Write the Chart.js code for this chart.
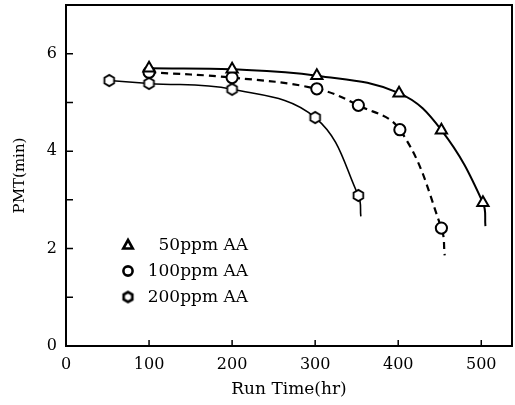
<!DOCTYPE html>
<html>
<head>
<meta charset="utf-8">
<script src="https://cdn.jsdelivr.net/npm/chart.js@4.4.1/dist/chart.umd.min.js"></script>
<style>
  html, body { margin: 0; padding: 0; background: #fff; }
  #wrap { width: 515px; height: 405px; position: relative; }
</style>
</head>
<body>
<div id="wrap"><canvas id="c"></canvas></div>
<script>
// ---- data ----
const seriesLabels = ['50ppm AA', '100ppm AA', '200ppm AA'];

const runTime50 = [100, 200, 302, 401, 452, 502];
const pmt50     = [5.70, 5.68, 5.55, 5.19, 4.43, 2.94];

const runTime100 = [100, 200, 302, 352, 402, 452];
const pmt100     = [5.62, 5.51, 5.28, 4.94, 4.44, 2.42];

const runTime200 = [52, 100, 200, 300, 352];
const pmt200     = [5.45, 5.39, 5.27, 4.69, 3.09];

// where each fitted curve ends, below its last marker
const curveEndTime = [505, 456, 355];
const curveEndPmt  = [2.46, 1.86, 2.66];

const xTickValues = [0, 100, 200, 300, 400, 500];
const yTickValues = [0, 1, 2, 3, 4, 5, 6];

// ---- helpers ----
function toPoints(xs, ys, endX, endY) {
  const pts = xs.map((x, i) => ({ x: x, y: ys[i] }));
  pts.push({ x: endX, y: endY });
  return pts;
}

function makeHexagon(r, lw) {
  const size = Math.ceil(2 * r + lw + 2);
  const cv = document.createElement('canvas');
  cv.width = size; cv.height = size;
  const g = cv.getContext('2d');
  const c = size / 2;
  g.beginPath();
  for (let i = 0; i < 6; i++) {
    const a = Math.PI / 6 + i * Math.PI / 3;
    const px = c + r * Math.cos(a), py = c + r * Math.sin(a);
    if (i === 0) g.moveTo(px, py); else g.lineTo(px, py);
  }
  g.closePath();
  g.fillStyle = '#fff';
  g.fill();
  g.lineWidth = lw;
  g.strokeStyle = '#000';
  g.stroke();
  return cv;
}
const hexMarker = makeHexagon(5.6, 1.8);
const hexLegend = makeHexagon(5, 2.6);

const FONT = "'DejaVu Serif', 'Liberation Serif', serif";

function lastHidden(base) {
  return ctx => (ctx.dataIndex === ctx.dataset.data.length - 1 ? 0 : base);
}
function noPadding(scale) {
  scale.paddingTop = 0; scale.paddingBottom = 0;
  scale.paddingLeft = 0; scale.paddingRight = 0;
}

// ---- plugins ----
const framePlugin = {
  id: 'frame',
  afterDraw(chart) {
    const { ctx, chartArea: a, scales } = chart;
    ctx.save();
    ctx.strokeStyle = '#000';
    ctx.lineWidth = 2;
    ctx.strokeRect(a.left, a.top, a.right - a.left, a.bottom - a.top);
    ctx.lineWidth = 1.5;
    ctx.beginPath();
    scales.x.ticks.forEach(t => {
      if (t.value <= 0) return;
      const px = scales.x.getPixelForValue(t.value);
      ctx.moveTo(px, a.bottom);
      ctx.lineTo(px, a.bottom - 6);
    });
    scales.y.ticks.forEach(t => {
      if (t.value <= 0 || t.value >= 7) return;
      const py = scales.y.getPixelForValue(t.value);
      ctx.moveTo(a.left, py);
      ctx.lineTo(a.left + 7, py);
    });
    ctx.stroke();
    ctx.restore();
  }
};

function drawMarker(ctx, style, x, y) {
  ctx.save();
  ctx.strokeStyle = '#000';
  ctx.fillStyle = '#fff';
  ctx.lineWidth = 2.6;
  if (style === 'triangle') {
    const r = 5;
    ctx.beginPath();
    ctx.moveTo(x, y - r);
    ctx.lineTo(x + r * 0.95, y + r * 0.7);
    ctx.lineTo(x - r * 0.95, y + r * 0.7);
    ctx.closePath();
    ctx.fill(); ctx.stroke();
  } else if (style === 'circle') {
    ctx.beginPath();
    ctx.arc(x, y, 4.6, 0, Math.PI * 2);
    ctx.fill(); ctx.stroke();
  } else {
    ctx.drawImage(hexLegend, x - hexLegend.width / 2, y - hexLegend.height / 2);
  }
  ctx.restore();
}

const legendPlugin = {
  id: 'insideLegend',
  afterDraw(chart) {
    const { ctx } = chart;
    const styles = ['triangle', 'circle', 'hex'];
    const rows = [245, 271, 297];
    ctx.save();
    ctx.font = "17px " + FONT;
    ctx.fillStyle = '#000';
    ctx.textAlign = 'right';
    ctx.textBaseline = 'middle';
    chart.data.datasets.forEach((ds, i) => {
      drawMarker(ctx, styles[i], 128, rows[i]);
      ctx.fillText(ds.label, 248, rows[i] + 1);
    });
    ctx.restore();
  }
};

// ---- chart ----
new Chart(document.getElementById('c'), {
  type: 'line',
  data: {
    datasets: [
      {
        label: seriesLabels[0],
        data: toPoints(runTime50, pmt50, curveEndTime[0], curveEndPmt[0]),
        borderColor: '#000',
        borderWidth: 2,
        tension: 0.4,
        pointStyle: 'triangle',
        pointRadius: lastHidden(6.5),
        pointBorderWidth: 2,
        pointBackgroundColor: '#fff',
        pointBorderColor: '#000',
        fill: false
      },
      {
        label: seriesLabels[1],
        data: toPoints(runTime100, pmt100, curveEndTime[1], curveEndPmt[1]),
        borderColor: '#000',
        borderWidth: 2.2,
        borderDash: [7, 5],
        tension: 0.4,
        pointStyle: 'circle',
        pointRadius: lastHidden(5.6),
        pointBorderWidth: 2,
        pointBackgroundColor: '#fff',
        pointBorderColor: '#000',
        fill: false
      },
      {
        label: seriesLabels[2],
        data: toPoints(runTime200, pmt200, curveEndTime[2], curveEndPmt[2]),
        borderColor: '#000',
        borderWidth: 1.6,
        tension: 0.4,
        pointStyle: ctx => (ctx.dataIndex === ctx.dataset.data.length - 1 ? 'circle' : hexMarker),
        pointRadius: lastHidden(6),
        pointBorderWidth: 2,
        pointBackgroundColor: '#fff',
        pointBorderColor: '#000',
        fill: false
      }
    ]
  },
  options: {
    responsive: true,
    maintainAspectRatio: false,
    animation: false,
    layout: { autoPadding: false, padding: { top: 5, right: 3, left: 0, bottom: 0 } },
    plugins: {
      legend: { display: false },
      tooltip: { enabled: false }
    },
    scales: {
      x: {
        type: 'linear',
        min: 0,
        max: 537,
        afterBuildTicks: scale => {
          scale.ticks = xTickValues.map(v => ({ value: v }));
        },
        afterFit: scale => { scale.height = 59; noPadding(scale); },
        grid: { display: false, drawTicks: false },
        border: { display: true, color: '#000', width: 2 },
        ticks: {
          color: '#000',
          padding: 9,
          maxRotation: 0,
          font: { family: FONT, size: 16 }
        },
        title: {
          display: true,
          text: 'Run Time(hr)',
          color: '#000',
          font: { family: FONT, size: 17 },
          padding: { top: 0, bottom: 5 }
        }
      },
      y: {
        min: 0,
        max: 7,
        afterBuildTicks: scale => {
          scale.ticks = yTickValues.map(v => ({ value: v }));
        },
        afterFit: scale => { scale.width = 66; noPadding(scale); },
        grid: { display: false, drawTicks: false },
        border: { display: true, color: '#000', width: 2 },
        ticks: {
          color: '#000',
          padding: 9,
          font: { family: FONT, size: 16 },
          callback: v => (v % 2 === 0 ? String(v) : '')
        },
        title: {
          display: true,
          text: 'PMT(min)',
          color: '#000',
          font: { family: FONT, size: 15 },
          padding: { top: 11, bottom: 0 }
        }
      }
    }
  },
  plugins: [framePlugin, legendPlugin]
});
</script>
</body>
</html>
